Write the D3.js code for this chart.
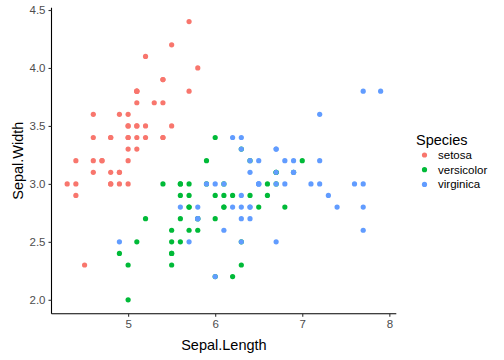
<!DOCTYPE html>
<html><head><meta charset="utf-8">
<script src="https://cdn.jsdelivr.net/npm/d3@7"></script>
<style>body{margin:0;background:#fff;}svg{display:block;font-family:"Liberation Sans",Arial,sans-serif;}</style>
</head><body><svg id="c" width="504" height="360"></svg>
<script>
const species = ["setosa","versicolor","virginica"];
const colors = ["#F8766D","#00BA38","#619CFF"];
const xTicks = [5,6,7,8];
const yTicks = [2.0,2.5,3.0,3.5,4.0,4.5];
const setosaLength = [5.1,4.9,4.7,4.6,5.0,5.4,4.6,5.0,4.4,4.9,5.4,4.8,4.8,4.3,5.8,5.7,5.4,5.1,5.7,5.1,5.4,5.1,4.6,5.1,4.8,5.0,5.0,5.2,5.2,4.7,4.8,5.4,5.2,5.5,4.9,5.0,5.5,4.9,4.4,5.1,5.0,4.5,4.4,5.0,5.1,4.8,5.1,4.6,5.3,5.0];
const setosaWidth = [3.5,3.0,3.2,3.1,3.6,3.9,3.4,3.4,2.9,3.1,3.7,3.4,3.0,3.0,4.0,4.4,3.9,3.5,3.8,3.8,3.4,3.7,3.6,3.3,3.4,3.0,3.4,3.5,3.4,3.2,3.1,3.4,4.1,4.2,3.1,3.2,3.5,3.6,3.0,3.4,3.5,2.3,3.2,3.5,3.8,3.0,3.8,3.2,3.7,3.3];
const versicolorLength = [7.0,6.4,6.9,5.5,6.5,5.7,6.3,4.9,6.6,5.2,5.0,5.9,6.0,6.1,5.6,6.7,5.6,5.8,6.2,5.6,5.9,6.1,6.3,6.1,6.4,6.6,6.8,6.7,6.0,5.7,5.5,5.5,5.8,6.0,5.4,6.0,6.7,6.3,5.6,5.5,5.5,6.1,5.8,5.0,5.6,5.7,5.7,6.2,5.1,5.7];
const versicolorWidth = [3.2,3.2,3.1,2.3,2.8,2.8,3.3,2.4,2.9,2.7,2.0,3.0,2.2,2.9,2.9,3.1,3.0,2.7,2.2,2.5,3.2,2.8,2.5,2.8,2.9,3.0,2.8,3.0,2.9,2.6,2.4,2.4,2.7,2.7,3.0,3.4,3.1,2.3,3.0,2.5,2.6,3.0,2.6,2.3,2.7,3.0,2.9,2.9,2.5,2.8];
const virginicaLength = [6.3,5.8,7.1,6.3,6.5,7.6,4.9,7.3,6.7,7.2,6.5,6.4,6.8,5.7,5.8,6.4,6.5,7.7,7.7,6.0,6.9,5.6,7.7,6.3,6.7,7.2,6.2,6.1,6.4,7.2,7.4,7.9,6.4,6.3,6.1,7.7,6.3,6.4,6.0,6.9,6.7,6.9,5.8,6.8,6.7,6.7,6.3,6.5,6.2,5.9];
const virginicaWidth = [3.3,2.7,3.0,2.9,3.0,3.0,2.5,2.9,2.5,3.6,3.2,2.7,3.0,2.5,2.8,3.2,3.0,3.8,2.6,2.2,3.2,2.8,2.8,2.7,3.3,3.2,2.8,3.0,2.8,3.0,2.8,3.8,2.8,2.8,2.6,3.0,3.4,3.1,3.0,3.1,3.1,3.1,2.7,3.2,3.3,3.0,2.5,3.0,3.4,3.0];

const lengths = [setosaLength, versicolorLength, virginicaLength];
const widths = [setosaWidth, versicolorWidth, virginicaWidth];
const data = [];
species.forEach((s,i)=>lengths[i].forEach((v,j)=>data.push({x:v,y:widths[i][j],s:s})));

const svg = d3.select("#c");
const L=51.5, R=396.3, T=7.7, B=313.7;
const xmin=d3.min(data,d=>d.x), xmax=d3.max(data,d=>d.x);
const ymin=d3.min(data,d=>d.y), ymax=d3.max(data,d=>d.y);
const xe=(xmax-xmin)*0.05, ye=(ymax-ymin)*0.05;
const x=d3.scaleLinear().domain([xmin-xe,xmax+xe]).range([L,R]);
const y=d3.scaleLinear().domain([ymin-ye,ymax+ye]).range([B,T]);
const color=d3.scaleOrdinal().domain(species).range(colors);

svg.append("g").selectAll("circle").data(data).join("circle")
  .attr("cx",d=>x(d.x)).attr("cy",d=>y(d.y)).attr("r",2.6).attr("fill",d=>color(d.s));

const xa=svg.append("g").attr("transform",`translate(0,${B})`)
  .call(d3.axisBottom(x).tickValues(xTicks).tickFormat(d3.format("d")).tickSizeOuter(0).tickSize(3).tickPadding(3));
const ya=svg.append("g").attr("transform",`translate(${L},0)`)
  .call(d3.axisLeft(y).tickValues(yTicks).tickFormat(d3.format(".1f")).tickSizeOuter(0).tickSize(3).tickPadding(3));
[xa,ya].forEach(a=>{
  a.select(".domain").attr("stroke","#000").attr("stroke-width",1.1).attr("d", a===xa?`M${L},0H${R}`:`M0,${B}V${T}`);
  a.selectAll(".tick line").attr("stroke","#333").attr("stroke-width",1.1);
  a.selectAll(".tick text").attr("fill","#4D4D4D").style("font-size","11.5px");
});

svg.append("text").attr("x",(L+R)/2).attr("y",350).attr("text-anchor","middle")
  .style("font-size","14.5px").attr("fill","#000").text("Sepal.Length");
svg.append("text").attr("transform",`translate(23,${(T+B)/2}) rotate(-90)`).attr("text-anchor","middle")
  .style("font-size","14.5px").attr("fill","#000").text("Sepal.Width");

const lg=svg.append("g");
lg.append("text").attr("x",416).attr("y",145).style("font-size","14.5px").text("Species");
species.forEach((s,i)=>{
  const yy=155+i*14.7;
  lg.append("circle").attr("cx",424.5).attr("cy",yy).attr("r",2.6).attr("fill",colors[i]);
  lg.append("text").attr("x",438).attr("y",yy+4).style("font-size","11.5px").attr("fill","#000").text(s);
});
</script></body></html>
